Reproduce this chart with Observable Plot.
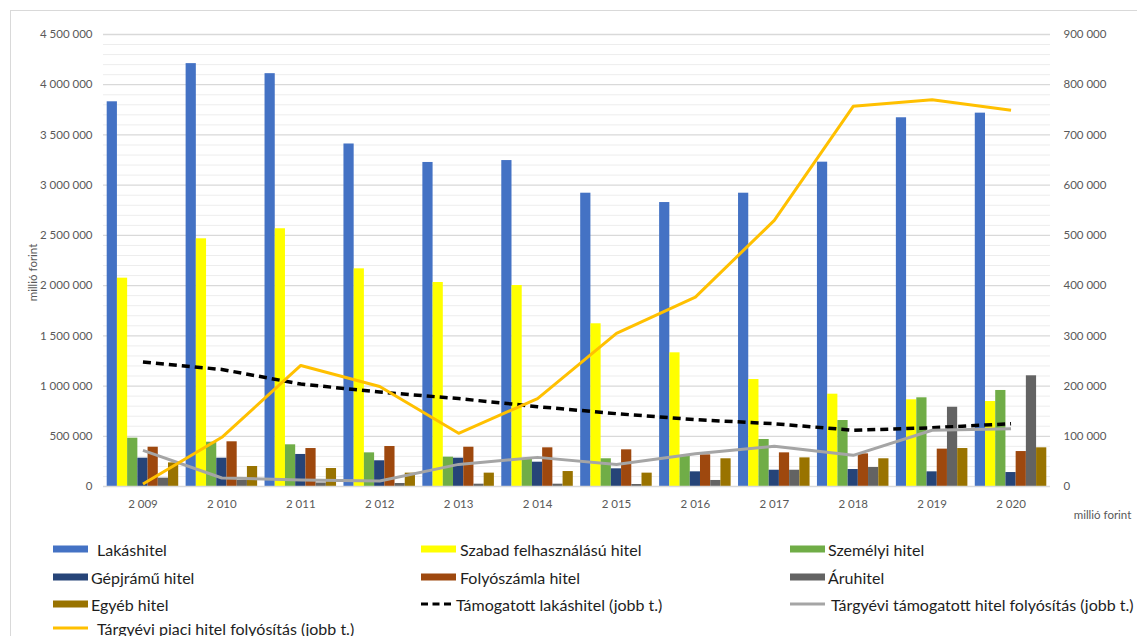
<!DOCTYPE html>
<html lang="hu">
<head>
<meta charset="utf-8">
<script src="https://cdn.jsdelivr.net/npm/d3@7"></script>
<script src="https://cdn.jsdelivr.net/npm/@observablehq/plot@0.6"></script>
<style>
  html, body { margin: 0; padding: 0; background: #fff; }
  #wrap { position: relative; width: 1137px; height: 636px; overflow: hidden; font-family: Lato, "Noto Sans", sans-serif; }
  #frame { position: absolute; left: 10px; top: 10px; width: 1200px; height: 700px; border: 1.5px solid #d9d9d9; box-sizing: border-box; }
  #chart { position: absolute; left: 0; top: 0; }
  .item { position: absolute; display: flex; align-items: center; height: 20px; font-size: 16px; color: #1e1e1e; white-space: nowrap; }
  .item svg { flex: none; }
</style>
</head>
<body>
<div id="wrap">
  <div id="frame"></div>
  <div id="chart"></div>
  <div id="legend"></div>
</div>
<script>
// Lakossági hitelállomány típusonként (millió forint, bal tengely)
const years = [2009, 2010, 2011, 2012, 2013, 2014, 2015, 2016, 2017, 2018, 2019, 2020];
const lakashitel  = [3830000, 4210000, 4110000, 3410000, 3226000, 3245000, 2920000, 2827000, 2920000, 3229000, 3671000, 3717000];
const szabad      = [2074000, 2466000, 2566000, 2167000, 2031000, 2001000, 1620000, 1331000, 1065000, 919000, 863000, 846000];
const szemelyi    = [481000, 441000, 415000, 335000, 292000, 280000, 276000, 305000, 468000, 657000, 883000, 956000];
const gepjarmu    = [282000, 282000, 319000, 256000, 282000, 242000, 176000, 146000, 162000, 169000, 146000, 139000];
const folyoszamla = [391000, 445000, 378000, 398000, 391000, 385000, 365000, 315000, 335000, 325000, 372000, 348000];
const aruhitel    = [83000, 60000, 35000, 30000, 23000, 23000, 20000, 60000, 162000, 189000, 789000, 1102000];
const egyeb       = [235000, 199000, 179000, 133000, 133000, 149000, 133000, 276000, 285000, 276000, 378000, 385000];

// Folyósítások (millió forint, jobb tengely)
const tamogatott     = [248000, 233000, 204000, 188000, 175000, 159000, 145000, 133000, 125000, 112000, 117000, 125000];
const tamogatottFoly = [72000, 17000, 13000, 11000, 44000, 58000, 44000, 65000, 80000, 62000, 112000, 115000];
const piaci          = [5000, 98000, 241000, 199000, 106000, 175000, 305000, 377000, 530000, 757000, 770000, 749000];

const leftTicks = [0, 500000, 1000000, 1500000, 2000000, 2500000, 3000000, 3500000, 4000000, 4500000];
const rightTicks = [0, 100000, 200000, 300000, 400000, 500000, 600000, 700000, 800000, 900000];
const axisRatio = 5; // bal tengely / jobb tengely

const barSeries = [
  {name: "Lakáshitel", values: lakashitel, color: "#4472C4"},
  {name: "Szabad felhasználású hitel", values: szabad, color: "#FFFF00"},
  {name: "Személyi hitel", values: szemelyi, color: "#70AD47"},
  {name: "Gépjrámű hitel", values: gepjarmu, color: "#264478"},
  {name: "Folyószámla hitel", values: folyoszamla, color: "#9E480E"},
  {name: "Áruhitel", values: aruhitel, color: "#636363"},
  {name: "Egyéb hitel", values: egyeb, color: "#997300"}
];
const lineSeries = [
  {name: "Támogatott lakáshitel (jobb t.)", values: tamogatott, color: "#000000", dash: "8,5", width: 3.5},
  {name: "Tárgyévi támogatott hitel folyósítás (jobb t.)", values: tamogatottFoly, color: "#A5A5A5", dash: null, width: 3},
  {name: "Tárgyévi piaci hitel folyósítás (jobb t.)", values: piaci, color: "#FFC000", dash: null, width: 3}
];

const fmt = d3.formatLocale({decimal: ",", thousands: "\u00a0", grouping: [3], currency: ["", ""]}).format(",");

const W = 1137, H = 530, mL = 103, mR = 87, mT = 34, mB = 44;
const band = (W - mL - mR) / years.length;
const pad = 3.7;
const slot = (band - 2 * pad) / barSeries.length;

const rows = vals => years.map((year, i) => ({year, value: vals[i]}));

const minor = d3.range(100000, 4500001, 100000).filter(v => v % 500000 !== 0);

const marks = [
  Plot.ruleY(minor, {stroke: "#ededed", strokeWidth: 1}),
  Plot.ruleY(leftTicks.slice(1), {stroke: "#d9d9d9", strokeWidth: 1.3}),
  ...barSeries.map((s, i) => Plot.barY(rows(s.values), {
    x: "year", y: "value", fill: s.color,
    insetLeft: pad + i * slot,
    insetRight: band - pad - (i + 1) * slot
  })),
  Plot.ruleY([0], {stroke: "#d9d9d9", strokeWidth: 1.3}),
  ...lineSeries.map(s => Plot.line(rows(s.values), {
    x: "year", y: d => d.value * axisRatio, stroke: s.color, strokeWidth: s.width,
    strokeDasharray: s.dash, strokeLinejoin: "round", strokeLinecap: "butt"
  })),
  Plot.axisY({anchor: "left", ticks: leftTicks, tickFormat: fmt, tickSize: 0, tickPadding: 11, label: null}),
  Plot.axisY({anchor: "right", ticks: leftTicks, tickFormat: d => fmt(d / axisRatio), tickSize: 0, tickPadding: 13, label: null}),
  Plot.axisX({tickSize: 0, tickPadding: 13, tickFormat: fmt, label: null}),
  Plot.text(["millió forint"], {frameAnchor: "left", rotate: -90, dx: -70, dy: 12, textAnchor: "middle", lineAnchor: "middle", fill: "#595959"}),
  Plot.text(["millió forint"], {frameAnchor: "bottom-right", dx: 52, dy: 29, textAnchor: "middle", lineAnchor: "middle", fill: "#595959"})
];

const chart = Plot.plot({
  width: W, height: H,
  marginLeft: mL, marginRight: mR, marginTop: mT, marginBottom: mB,
  style: {fontFamily: "Lato, sans-serif", fontSize: "11.5px", color: "#595959", background: "transparent", overflow: "visible"},
  x: {type: "band", domain: years, padding: 0, round: false, axis: null},
  y: {domain: [0, 4500000], axis: null},
  marks
});
document.getElementById("chart").appendChild(chart);

// Jelmagyarázat: három oszlop, sorfolytonosan
const legend = document.getElementById("legend");
const colX = [53, 421, 790];
const rowY = [549, 577, 604, 628];
const items = [
  ...barSeries.map(s => ({name: s.name, kind: "rect", color: s.color})),
  ...lineSeries.map(s => ({name: s.name, kind: "line", color: s.color, dash: s.dash}))
];
// a szimbólum és a felirat közti távolság elemenként
const gaps = [9, 4, 3, 3, 4, 3, 3, 5, 6, 9];
items.forEach((it, i) => {
  const div = document.createElement("div");
  div.className = "item";
  div.style.left = colX[i % 3] + "px";
  div.style.top = (rowY[Math.floor(i / 3)] - 10) + "px";
  const ns = "http://www.w3.org/2000/svg";
  const svg = document.createElementNS(ns, "svg");
  const sw = it.dash ? 30 : 35;
  svg.setAttribute("width", sw);
  svg.setAttribute("height", 10);
  svg.style.marginRight = gaps[i] + "px";
  if (it.kind === "rect") {
    const r = document.createElementNS(ns, "rect");
    r.setAttribute("x", 0); r.setAttribute("y", 1.5);
    r.setAttribute("width", sw); r.setAttribute("height", 7);
    r.setAttribute("fill", it.color);
    svg.appendChild(r);
  } else {
    const l = document.createElementNS(ns, "line");
    l.setAttribute("x1", 0); l.setAttribute("x2", sw);
    l.setAttribute("y1", 5); l.setAttribute("y2", 5);
    l.setAttribute("stroke", it.color);
    l.setAttribute("stroke-width", 3);
    if (it.dash) l.setAttribute("stroke-dasharray", "7,4.5");
    svg.appendChild(l);
  }
  div.appendChild(svg);
  const span = document.createElement("span");
  span.textContent = it.name;
  div.appendChild(span);
  legend.appendChild(div);
});
</script>
</body>
</html>
